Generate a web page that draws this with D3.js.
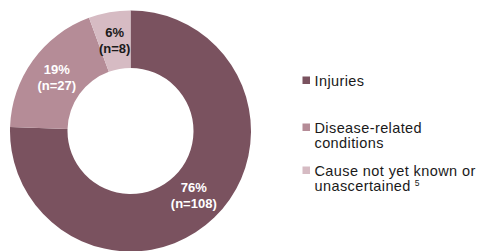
<!DOCTYPE html>
<html lang="en">
<head>
<meta charset="UTF-8">
<script src="https://d3js.org/d3.v7.min.js"></script>
<title>Causes</title>
<style>
    body { margin: 0; background: #ffffff; }
    svg { display: block; font-family: 'Liberation Sans', Arial, sans-serif; }
    .lbl { font-size: 13px; font-weight: bold; text-anchor: middle; }
    .leg { font-size: 14.5px; letter-spacing: 0.4px; fill: #1a1a1a; }
</style>
</head>
<body>
<svg id="canvas" width="478" height="251"></svg>
<script>
// slices, clockwise from 12 o'clock
let categories = ['Injuries', 'Disease-related conditions', 'Cause not yet known or unascertained']
let counts = [108, 27, 8]
let percents = ['76%', '19%', '6%']
let colors = ['#7a525f', '#b58c97', '#d6bbc3']
let labelColors = ['#ffffff', '#ffffff', '#1a1a1a']

// legend text is wrapped like the original
let legendLines = [['Injuries'], ['Disease-related', 'conditions'], ['Cause not yet known or', 'unascertained']]

let svg = d3.select('#canvas')
let cx = 130.5, cy = 131
let outer = 120.5, inner = 63

let pie = d3.pie().sort(null).value(d => d)
let arcs = pie(counts)
let arc = d3.arc().innerRadius(inner).outerRadius(outer)
let labelArc = d3.arc().innerRadius(91).outerRadius(91)

let g = svg.append('g').attr('transform', `translate(${cx},${cy})`)

g.selectAll('path')
    .data(arcs)
    .enter()
    .append('path')
    .attr('d', arc)
    .attr('fill', (d, i) => colors[i])

let labels = g.selectAll('text')
    .data(arcs)
    .enter()
    .append('text')
    .attr('class', 'lbl')
    .attr('fill', (d, i) => labelColors[i])
    .attr('transform', d => {
        let c = labelArc.centroid(d)
        return `translate(${c[0]},${c[1]})`
    })
labels.append('tspan').attr('x', 0).attr('y', -4).text((d, i) => percents[i])
labels.append('tspan').attr('x', 0).attr('y', 12).text((d, i) => '(n=' + counts[i] + ')')

// legend
let legendY = [86, 133, 176]
let leg = svg.append('g')
categories.forEach((c, i) => {
    leg.append('rect')
        .attr('x', 302.5).attr('y', legendY[i] - 9.5)
        .attr('width', 7.5).attr('height', 7.5)
        .attr('fill', colors[i])
    legendLines[i].forEach((line, j) => {
        let t = leg.append('text').attr('class', 'leg')
            .attr('x', 314.5).attr('y', legendY[i] + j * 14.5).text(line)
        if (i === 2 && j === 1) {
            t.append('tspan').attr('dx', 4).attr('dy', -4.5).style('font-size', '8.5px').text('5')
        }
    })
})
</script>
</body>
</html>
